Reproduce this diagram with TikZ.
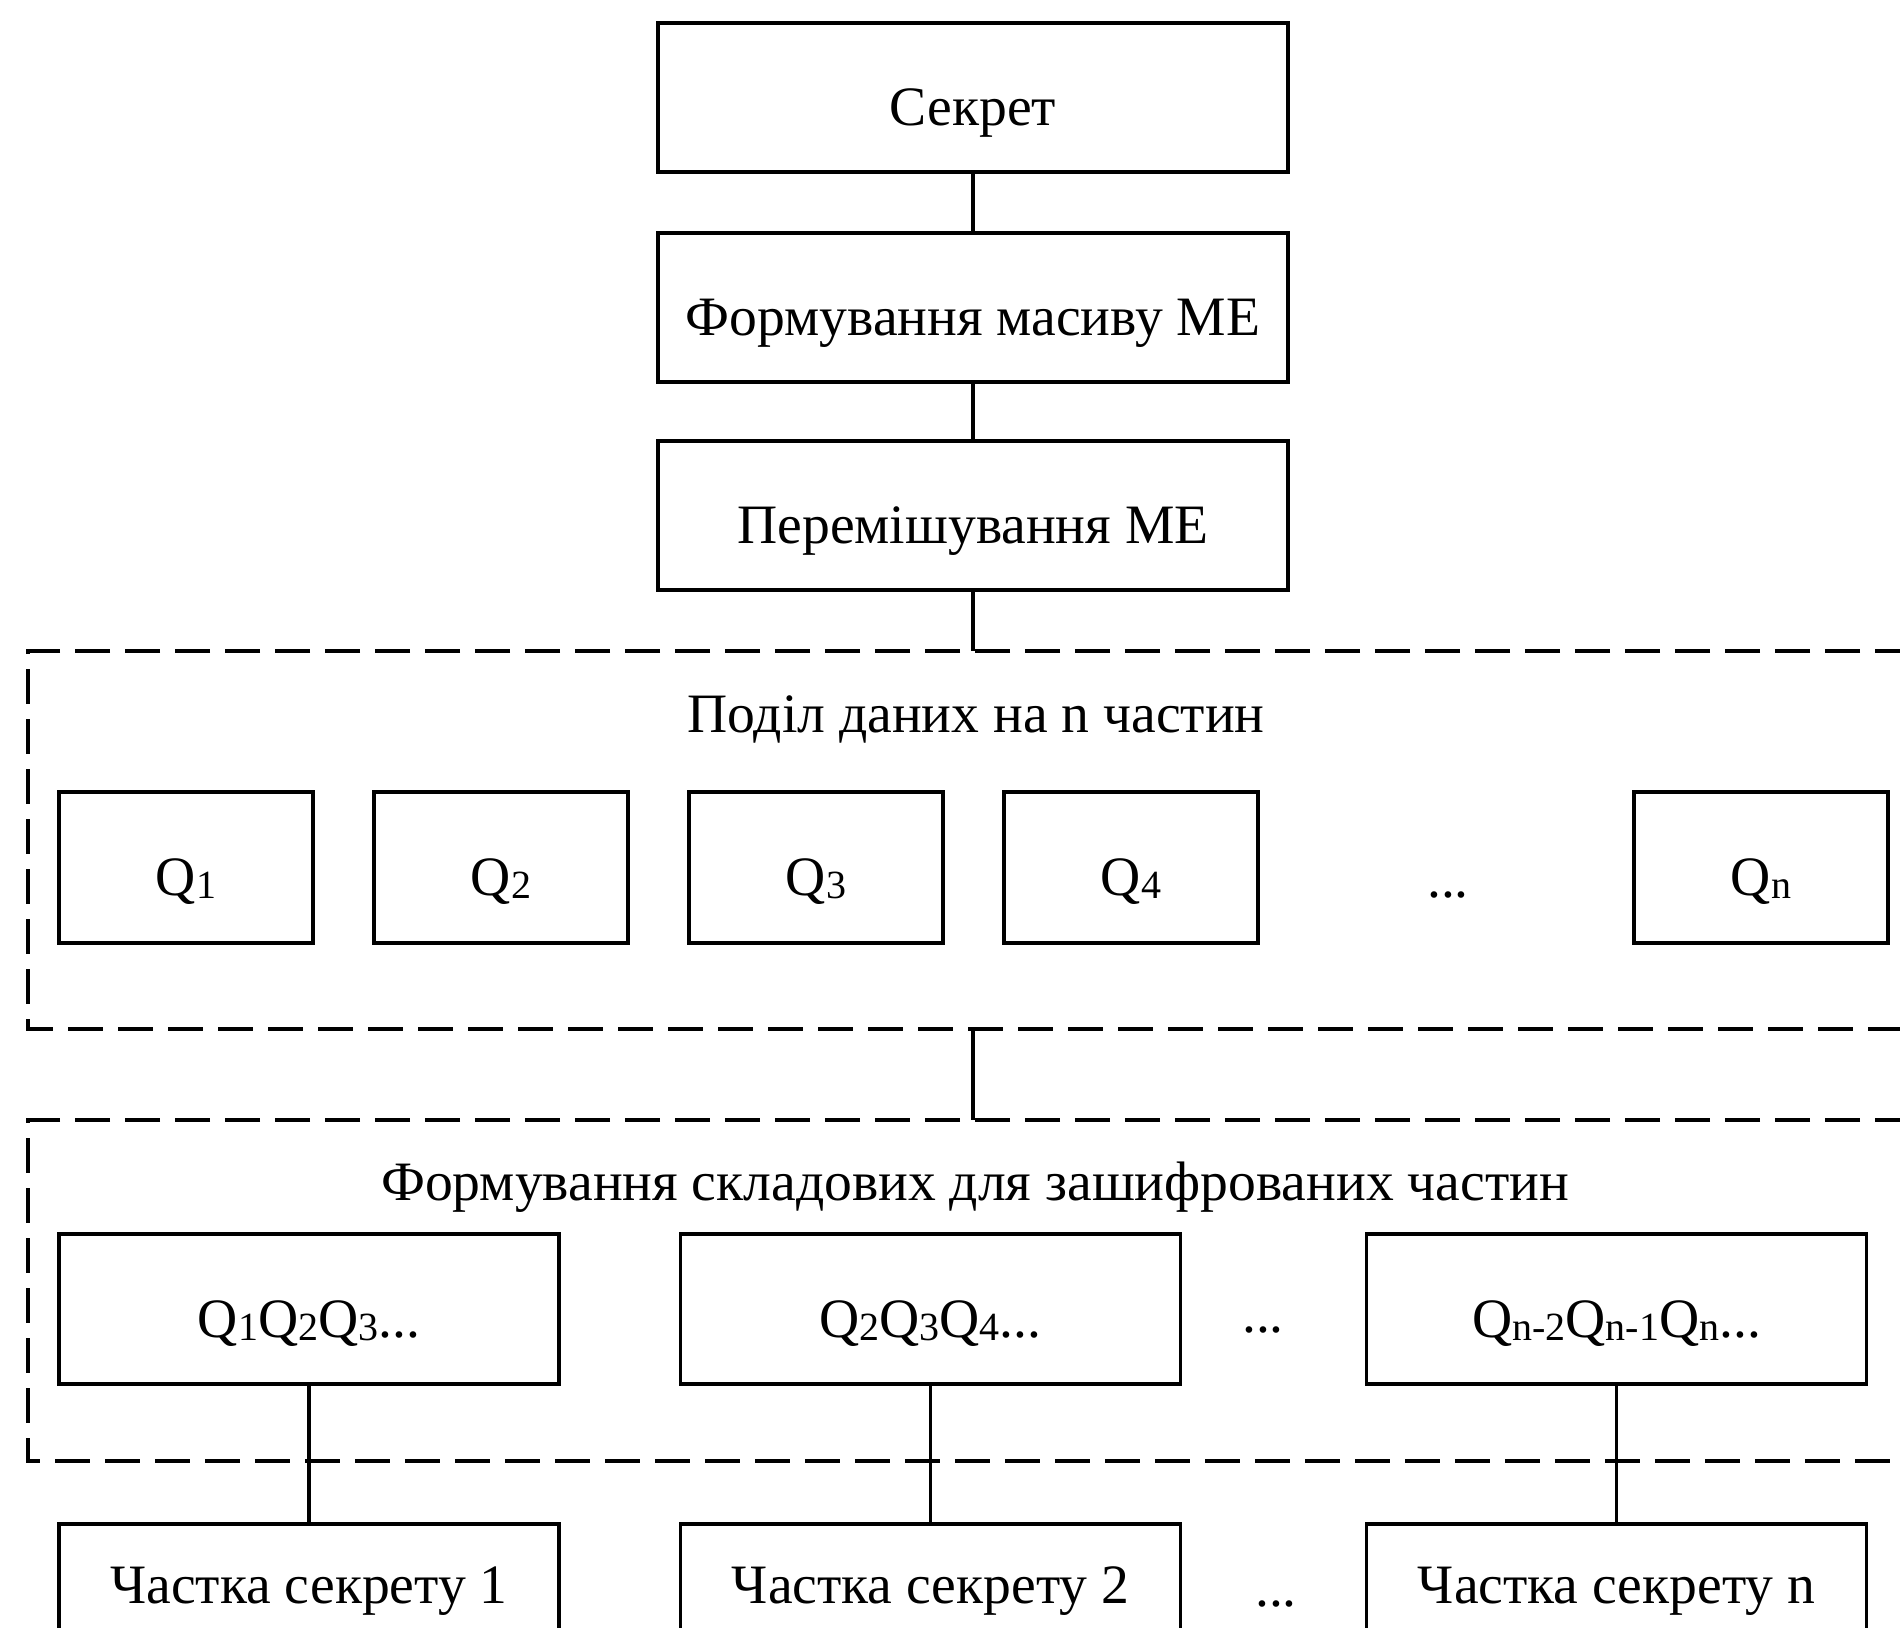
\documentclass[tikz,border=0pt]{standalone}
\usepackage{fontspec}
\setmainfont{Liberation Serif}
\newcommand\qsub[1]{\raisebox{-0.12ex}{\fontsize{10}{11}\selectfont #1}}
\begin{document}
\begin{tikzpicture}[x=0.25pt,y=-0.25pt,
  box/.style={draw, line width=0.8pt, inner sep=0pt, font=\fontsize{13.9}{16}\selectfont,
              text height=14.5pt, text depth=0.5pt},
  topbox/.style={box, minimum width=157.5pt, minimum height=37.25pt},
  qbox/.style={box, minimum width=63.5pt, minimum height=37.75pt},
  wbox/.style={box, minimum width=125pt, minimum height=37.5pt},
  cbox/.style={box, minimum width=125pt, minimum height=32.5pt, text height=10pt, text depth=3pt},
  group/.style={draw, line width=1.2pt, dash pattern=on 8.75pt off 3.75pt},
  lbl/.style={inner sep=0pt, anchor=base, font=\fontsize{13.9}{16}\selectfont},
  conn/.style={line width=0.8pt}]
\useasboundingbox (0,0) rectangle (1900,1628);
\clip (0,0) rectangle (1900,1628);
\fill[white] (0,0) rectangle (1900,1628);
% top chain
\node[topbox] (s) at (973,97.5) {Секрет};
\node[topbox] (f) at (973,307.5) {Формування масиву МЕ};
\node[topbox] (p) at (973,515.5) {Перемішування МЕ};
% group 1
\draw[group] (1960,651) -- (28,651) -- (28,1029) -- (1960,1029);
\coordinate (g1t) at (973,651);
\coordinate (g1b) at (973,1029);
\node[lbl] (t1) at (976,732) {Поділ даних на n частин};
\node[qbox] (q1) at (186,867.5) {Q\qsub{1}};
\node[qbox] (q2) at (501,867.5) {Q\qsub{2}};
\node[qbox] (q3) at (816,867.5) {Q\qsub{3}};
\node[qbox] (q4) at (1131,867.5) {Q\qsub{4}};
\node[lbl] (qd) at (1448,897) {...};
\node[qbox] (qn) at (1761,867.5) {Q\qsub{n}};
% group 2
\draw[group] (1960,1120) -- (28,1120) -- (28,1461) -- (1960,1461);
\coordinate (g2t) at (973,1120);
\node[lbl] (t2) at (975,1200) {Формування складових для зашифрованих частин};
\node[wbox] (b1) at (309,1309) {Q\qsub{1}Q\qsub{2}Q\qsub{3}...};
\node[wbox] (b2) at (930.5,1309) {Q\qsub{2}Q\qsub{3}Q\qsub{4}...};
\node[lbl] (bd) at (1263,1332) {...};
\node[wbox] (b3) at (1616.5,1309) {Q\qsub{n-2}Q\qsub{n-1}Q\qsub{n}...};
% bottom
\node[cbox] (c1) at (309,1589) {Частка секрету 1};
\node[cbox] (c2) at (930.5,1589) {Частка секрету 2};
\node[lbl] (cd) at (1276,1606) {...};
\node[cbox] (c3) at (1616.5,1589) {Частка секрету n};
% connectors
\draw[conn] (s.south) -- (f.north);
\draw[conn] (f.south) -- (p.north);
\draw[conn] (p.south) -- (g1t);
\draw[conn] (g1b) -- (g2t);
\draw[conn] (b1.south) -- (c1.north);
\draw[conn] (b2.south) -- (c2.north);
\draw[conn] (b3.south) -- (c3.north);
\end{tikzpicture}
\end{document}
